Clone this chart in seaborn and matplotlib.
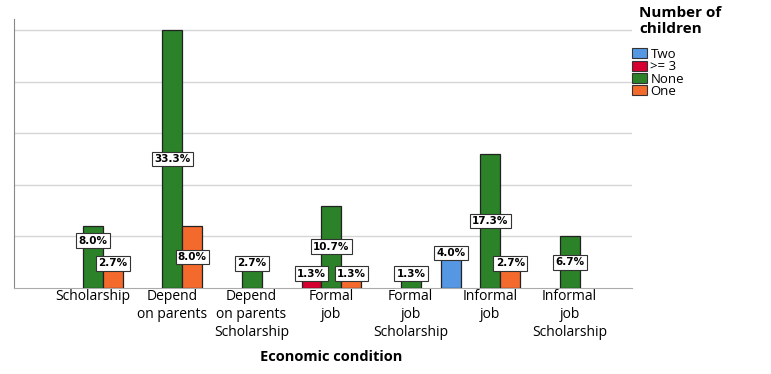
import numpy as np
import pandas as pd
import matplotlib
matplotlib.use("Agg")
import matplotlib.pyplot as plt
import seaborn as sns
from matplotlib.patches import Patch

# categories on the x axis and their wrapped tick text
categories = ["Scholarship", "Depend on parents", "Depend on parents Scholarship",
              "Formal job", "Formal job Scholarship", "Informal job",
              "Informal job Scholarship"]
tick_labels = ["Scholarship", "Depend\non parents", "Depend\non parents\nScholarship",
               "Formal\njob", "Formal\njob\nScholarship", "Informal\njob",
               "Informal\njob\nScholarship"]

# hue levels (number of children)
children_levels = ["Two", ">= 3", "None", "One"]
colors = ["#5597e3", "#d5002f", "#2b8228", "#f46a2d"]

# counts per bar (n = 75), labels show percent of total
bar_condition = ["Scholarship", "Scholarship",
                 "Depend on parents", "Depend on parents",
                 "Depend on parents Scholarship",
                 "Formal job", "Formal job", "Formal job",
                 "Formal job Scholarship",
                 "Informal job", "Informal job", "Informal job",
                 "Informal job Scholarship"]
bar_children = ["None", "One", "None", "One", "None", ">= 3", "None", "One",
                "None", "Two", "None", "One", "None"]
bar_count = [6, 2, 25, 6, 2, 1, 8, 1, 1, 3, 13, 2, 5]

df = pd.DataFrame({"condition": bar_condition, "children": bar_children,
                   "count": bar_count})
total = sum(bar_count)

sns.set_style("white")
plt.rcParams["font.family"] = ["Open Sans", "DejaVu Sans"]
plt.rcParams["text.color"] = "black"
plt.rcParams["xtick.color"] = "black"

fig = plt.figure(figsize=(7.71, 3.74), dpi=100)
ax = fig.add_axes([14 / 771, 86 / 374, 618 / 771, 269 / 374])

sns.barplot(data=df, x="condition", y="count", hue="children",
            order=categories, hue_order=children_levels, palette=colors,
            saturation=1, width=1.0, gap=0, edgecolor="#222222",
            linewidth=0.9, errorbar=None, legend=False, ax=ax, zorder=3)

ax.set_xlim(-0.868, 6.906)
ax.set_ylim(0, 26.1)
ax.set_yticks([5, 10, 15, 20, 25])
ax.set_yticklabels([])
ax.tick_params(axis="y", length=0)
ax.yaxis.grid(True, color="#d6d6d6", linewidth=1.0, zorder=0)
ax.set_axisbelow(True)
for s in ["top", "right"]:
    ax.spines[s].set_visible(False)
ax.spines["left"].set_color("#888888")
ax.spines["bottom"].set_color("#aaaaaa")
ax.set_ylabel("")
ax.set_xlabel("")

ax.set_xticks(np.arange(len(categories)) + 0.12)
ax.set_xticklabels(tick_labels, fontsize=10, linespacing=1.25, color="black")
ax.tick_params(axis="x", length=0, pad=1)

fig.text(331 / 771, 1 - 357 / 374, "Economic condition", fontsize=10.5,
         fontweight="bold", ha="center", va="center")

# percent labels
entries = []
for cont in ax.containers:
    for bar in cont:
        h = bar.get_height()
        if np.isnan(h) or h == 0:
            continue
        entries.append((h, bar.get_x() + bar.get_width() / 2))
entries.sort()
placed = []
for h, x in entries:
    y = h + 0.4 if h <= 3 else h / 2
    for px, py in placed:
        if abs(px - x) < 0.35 and abs(py - y) < 1.5:
            y = py + 2.2
    placed.append((x, y))
    ax.text(x, y, f"{h / total * 100:.1f}%", ha="center", va="center",
            fontsize=7.5, fontweight="bold", family="DejaVu Sans", zorder=5,
            bbox=dict(boxstyle="square,pad=0.22", fc="white", ec="#333333",
                      lw=0.8))

# legend
fig.text(639 / 771, 1 - 6 / 374, "Number of\nchildren", fontsize=11,
         fontweight="bold", ha="left", va="top", linespacing=1.2)
handles = [Patch(facecolor=c, edgecolor="#333333", linewidth=0.8)
           for c in colors]
fig.legend(handles, children_levels, loc="upper left",
           bbox_to_anchor=(632 / 771, 1 - 48 / 374), frameon=False,
           fontsize=9.5, labelspacing=-0.05, handlelength=1.1,
           handleheight=0.8, handletextpad=0.3, borderpad=0, borderaxespad=0)

fig.savefig("out.png", dpi=100, facecolor="white")
